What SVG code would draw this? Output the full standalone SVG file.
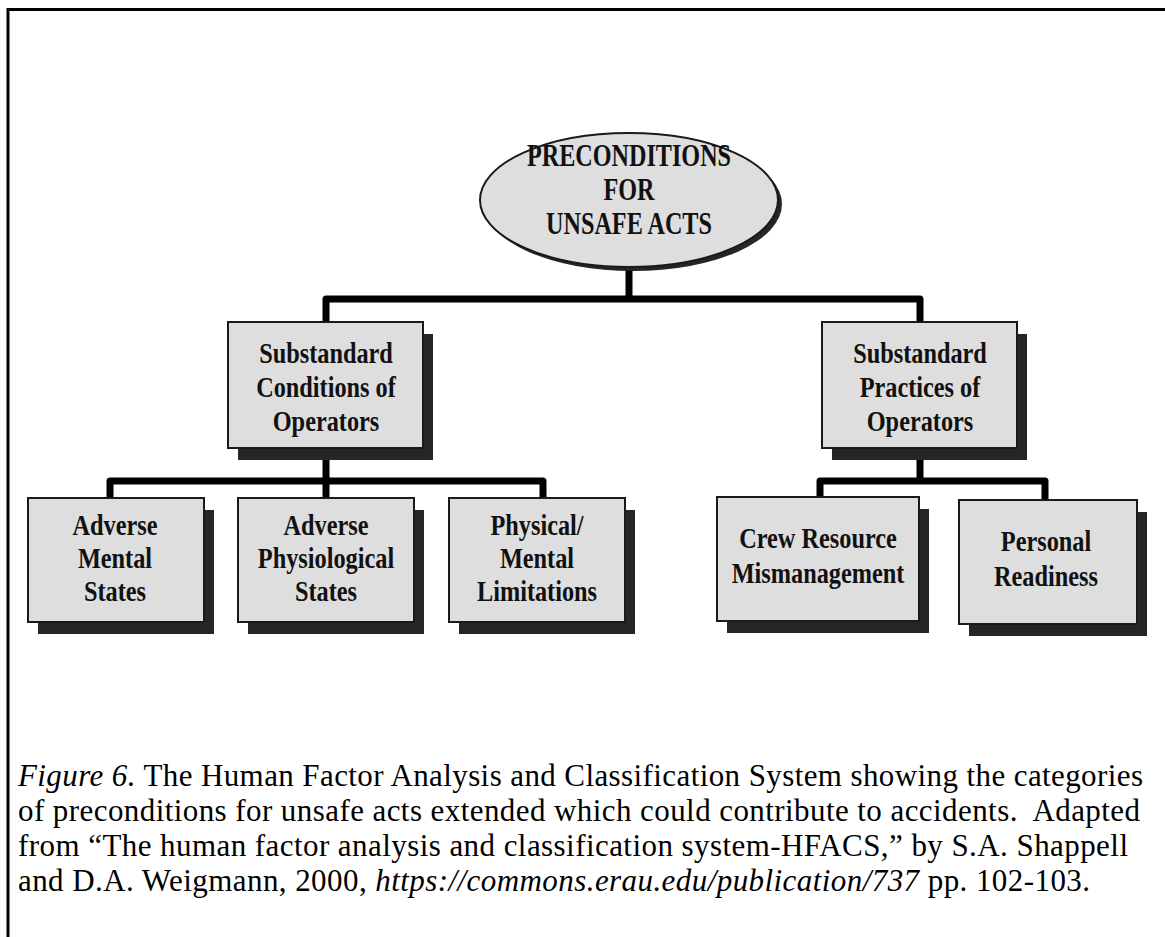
<svg xmlns="http://www.w3.org/2000/svg" width="1165" height="937" viewBox="0 0 1165 937">
  <style>
    .frame { stroke: #000; stroke-width: 3; fill: none; }
    .wire { stroke: #000; stroke-width: 7; fill: none; stroke-linejoin: round; }
    .box { fill: #dedede; stroke: #1a1a1a; stroke-width: 2; }
    .shadow { fill: #262626; }
    .lbl { font-family: "Liberation Serif", "Times New Roman", serif; font-weight: bold; font-size: 30px; fill: #111; text-anchor: middle; }
    .top { font-size: 31px; }
    .cap { font-family: "Liberation Serif", "Times New Roman", serif; font-size: 31px; fill: #000; }
    .it { font-style: italic; }
  </style>

  <rect width="1165" height="937" fill="#fff"/>

  <!-- page frame: top and left rules -->
  <path class="frame" d="M8 937 V9.5 H1165"/>

  <!-- connectors -->
  <g id="connectors">
    <path class="wire" d="M629 267 V299"/>
    <path class="wire" d="M326 322 V299 H920 V322"/>
    <path class="wire" d="M326 448 V498"/>
    <path class="wire" d="M110 498 V481 H543 V498"/>
    <path class="wire" d="M920 448 V481"/>
    <path class="wire" d="M820 497 V481 H1045 V500"/>
  </g>

  <!-- root -->
  <g id="preconditions">
    <ellipse cx="633" cy="204" rx="149" ry="67" fill="#262626"/>
    <ellipse class="box" cx="629" cy="200" rx="149" ry="67"/>
    <g transform="matrix(0.78 0 0 1 629 0)">
      <text class="lbl top" x="0" y="166">PRECONDITIONS</text>
      <text class="lbl top" x="0" y="200">FOR</text>
      <text class="lbl top" x="0" y="234">UNSAFE ACTS</text>
    </g>
  </g>

  <g id="substandard-conditions">
    <rect class="shadow" x="238" y="334" width="195" height="126"/>
    <rect class="box" x="228" y="322" width="195" height="126"/>
    <g transform="matrix(0.81 0 0 1 326 0)">
      <text class="lbl" x="0" y="363">Substandard</text>
      <text class="lbl" x="0" y="397">Conditions of</text>
      <text class="lbl" x="0" y="431">Operators</text>
    </g>
  </g>

  <g id="substandard-practices">
    <rect class="shadow" x="832" y="334" width="195" height="126"/>
    <rect class="box" x="822" y="322" width="195" height="126"/>
    <g transform="matrix(0.81 0 0 1 920 0)">
      <text class="lbl" x="0" y="363">Substandard</text>
      <text class="lbl" x="0" y="397">Practices of</text>
      <text class="lbl" x="0" y="431">Operators</text>
    </g>
  </g>

  <g id="adverse-mental">
    <rect class="shadow" x="38" y="510" width="176" height="124"/>
    <rect class="box" x="28" y="498" width="176" height="124"/>
    <g transform="matrix(0.81 0 0 1 115 0)">
      <text class="lbl" x="0" y="535">Adverse</text>
      <text class="lbl" x="0" y="568">Mental</text>
      <text class="lbl" x="0" y="601">States</text>
    </g>
  </g>

  <g id="adverse-physiological">
    <rect class="shadow" x="248" y="510" width="176" height="124"/>
    <rect class="box" x="238" y="498" width="176" height="124"/>
    <g transform="matrix(0.81 0 0 1 326 0)">
      <text class="lbl" x="0" y="535">Adverse</text>
      <text class="lbl" x="0" y="568">Physiological</text>
      <text class="lbl" x="0" y="601">States</text>
    </g>
  </g>

  <g id="physical-mental">
    <rect class="shadow" x="459" y="510" width="176" height="124"/>
    <rect class="box" x="449" y="498" width="176" height="124"/>
    <g transform="matrix(0.81 0 0 1 537 0)">
      <text class="lbl" x="0" y="535">Physical/</text>
      <text class="lbl" x="0" y="568">Mental</text>
      <text class="lbl" x="0" y="601">Limitations</text>
    </g>
  </g>

  <g id="crew-resource">
    <rect class="shadow" x="727" y="509" width="202" height="124"/>
    <rect class="box" x="717" y="497" width="202" height="124"/>
    <g transform="matrix(0.81 0 0 1 818 0)">
      <text class="lbl" x="0" y="548">Crew Resource</text>
      <text class="lbl" x="0" y="583">Mismanagement</text>
    </g>
  </g>

  <g id="personal-readiness">
    <rect class="shadow" x="969" y="512" width="178" height="124"/>
    <rect class="box" x="959" y="500" width="178" height="124"/>
    <g transform="matrix(0.81 0 0 1 1046 0)">
      <text class="lbl" x="0" y="551">Personal</text>
      <text class="lbl" x="0" y="586">Readiness</text>
    </g>
  </g>

  <!-- caption -->
  <g id="caption">
    <text class="cap" x="18" y="786" textLength="1125" lengthAdjust="spacing"><tspan class="it">Figure 6.</tspan> The Human Factor Analysis and Classification System showing the categories</text>
    <text class="cap" x="18" y="821" textLength="1122" lengthAdjust="spacing">of preconditions for unsafe acts extended which could contribute to accidents.&#160; Adapted</text>
    <text class="cap" x="18" y="856" textLength="1110" lengthAdjust="spacing">from “The human factor analysis and classification system-HFACS,” by S.A. Shappell</text>
    <text class="cap" x="18" y="891" textLength="1072" lengthAdjust="spacing">and D.A. Weigmann, 2000, <tspan class="it">https://commons.erau.edu/publication/737</tspan> pp. 102-103.</text>
  </g>
</svg>
